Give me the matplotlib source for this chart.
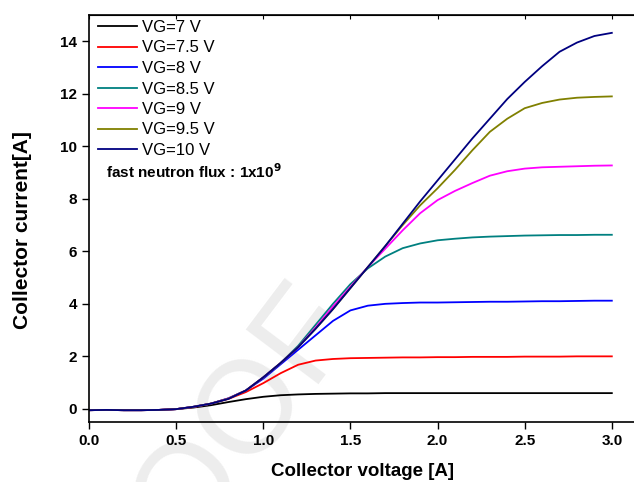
import matplotlib
matplotlib.use('Agg')
import matplotlib.pyplot as plt

plt.rcParams['font.family'] = ['Liberation Sans', 'DejaVu Sans']

# collector voltage grid
vc = [0.0, 0.1, 0.2, 0.3, 0.4, 0.5, 0.6, 0.7, 0.8, 0.9, 1.0,
      1.1, 1.2, 1.3, 1.4, 1.5, 1.6, 1.7, 1.8, 1.9, 2.0,
      2.1, 2.2, 2.3, 2.4, 2.5, 2.6, 2.7, 2.8, 2.9, 3.0]

base = [-0.05, -0.04, -0.05, -0.05, -0.04, -0.01]

ic_7 = base + [0.05, 0.14, 0.26, 0.37, 0.46, 0.52, 0.55, 0.57, 0.58, 0.59, 0.59, 0.60, 0.60, 0.60,
               0.60, 0.60, 0.60, 0.60, 0.60, 0.60, 0.60, 0.60, 0.60, 0.60, 0.60]
ic_75 = base + [0.07, 0.20, 0.38, 0.64, 0.98, 1.36, 1.68, 1.84, 1.90, 1.93, 1.94, 1.95, 1.96, 1.96,
                1.97, 1.97, 1.98, 1.98, 1.98, 1.99, 1.99, 1.99, 2.00, 2.00, 2.00]
ic_8 = base + [0.08, 0.20, 0.40, 0.70, 1.15, 1.70, 2.25, 2.80, 3.35, 3.75, 3.93, 4.00, 4.03, 4.05,
               4.05, 4.06, 4.07, 4.08, 4.08, 4.09, 4.10, 4.10, 4.11, 4.12, 4.12]
ic_85 = base + [0.08, 0.20, 0.40, 0.70, 1.20, 1.75, 2.40, 3.20, 4.00, 4.75, 5.35, 5.80, 6.12, 6.30,
                6.42, 6.48, 6.53, 6.56, 6.58, 6.60, 6.61, 6.62, 6.62, 6.63, 6.63]
ic_9 = base + [0.08, 0.20, 0.40, 0.70, 1.20, 1.75, 2.35, 3.10, 3.90, 4.65, 5.40, 6.10, 6.80, 7.45,
               7.95, 8.30, 8.60, 8.88, 9.05, 9.15, 9.20, 9.22, 9.24, 9.26, 9.27]
ic_95 = base + [0.08, 0.20, 0.39, 0.70, 1.20, 1.75, 2.35, 3.05, 3.80, 4.60, 5.40, 6.20, 7.00, 7.75,
                8.40, 9.10, 9.85, 10.55, 11.05, 11.45, 11.65, 11.78, 11.85, 11.88, 11.90]
ic_10 = base + [0.08, 0.20, 0.38, 0.70, 1.20, 1.75, 2.35, 3.05, 3.80, 4.60, 5.40, 6.20, 7.05, 7.90,
                8.70, 9.50, 10.30, 11.05, 11.80, 12.45, 13.05, 13.60, 13.95, 14.20, 14.32]

series = [ic_7, ic_75, ic_8, ic_85, ic_9, ic_95, ic_10]
labels = ['VG=7 V', 'VG=7.5 V', 'VG=8 V', 'VG=8.5 V', 'VG=9 V', 'VG=9.5 V', 'VG=10 V']
colors = ['#000000', '#ff0000', '#0000ff', '#008080', '#ff00ff', '#808000', '#000080']

fig = plt.figure(figsize=(6.34, 4.82), dpi=100)
ax = fig.add_axes([89 / 634, 1 - 422 / 482, 1.02 - 89 / 634, (422 - 15) / 482])

# faint watermark behind the curves
ax.text(0.52, 0.38, 'PROOF', transform=fig.transFigure, fontsize=95, color='#ededed',
        rotation=53, rotation_mode='anchor', ha='right', va='center', zorder=0, clip_on=False)

for y, lab, c in zip(series, labels, colors):
    ax.plot(vc, y, color=c, lw=1.3, label=lab)

ax.set_xlim(0, 3.2)
ax.set_ylim(-0.5, 15)
ax.set_xticks([0.0, 0.5, 1.0, 1.5, 2.0, 2.5, 3.0])
ax.set_yticks([0, 2, 4, 6, 8, 10, 12, 14])
ax.tick_params(direction='out', length=5, width=1, labelsize=11)
for t in ax.get_xticklabels() + ax.get_yticklabels():
    t.set_fontweight('bold')
for s in ax.spines.values():
    s.set_linewidth(1.2)
ax.spines['right'].set_visible(False)

top = ax.secondary_xaxis('top')
top.set_xticks([0.0, 0.5, 1.0, 1.5, 2.0, 2.5, 3.0])
top.tick_params(direction='in', length=3, labeltop=False)

ax.set_xlabel('Collector voltage [A]', fontsize=13.5, fontweight='bold')
ax.set_ylabel('Collector current[A]', fontsize=15, fontweight='bold')
ax.xaxis.set_label_coords(0.49, -0.10)
ax.yaxis.set_label_coords(-0.102, 0.472)

ax.legend(loc='upper left', bbox_to_anchor=(0.008, 1.0), frameon=False, fontsize=12,
          handlelength=2.3, handletextpad=0.3, labelspacing=0.33, borderaxespad=0.0,
          borderpad=0.3)
ax.text(0.03, 0.614, r'fast neutron flux : 1x10$^{\mathbf{9}}$', transform=ax.transAxes,
        fontsize=11, fontweight='bold', va='center')

fig.savefig('out.png', dpi=100)
